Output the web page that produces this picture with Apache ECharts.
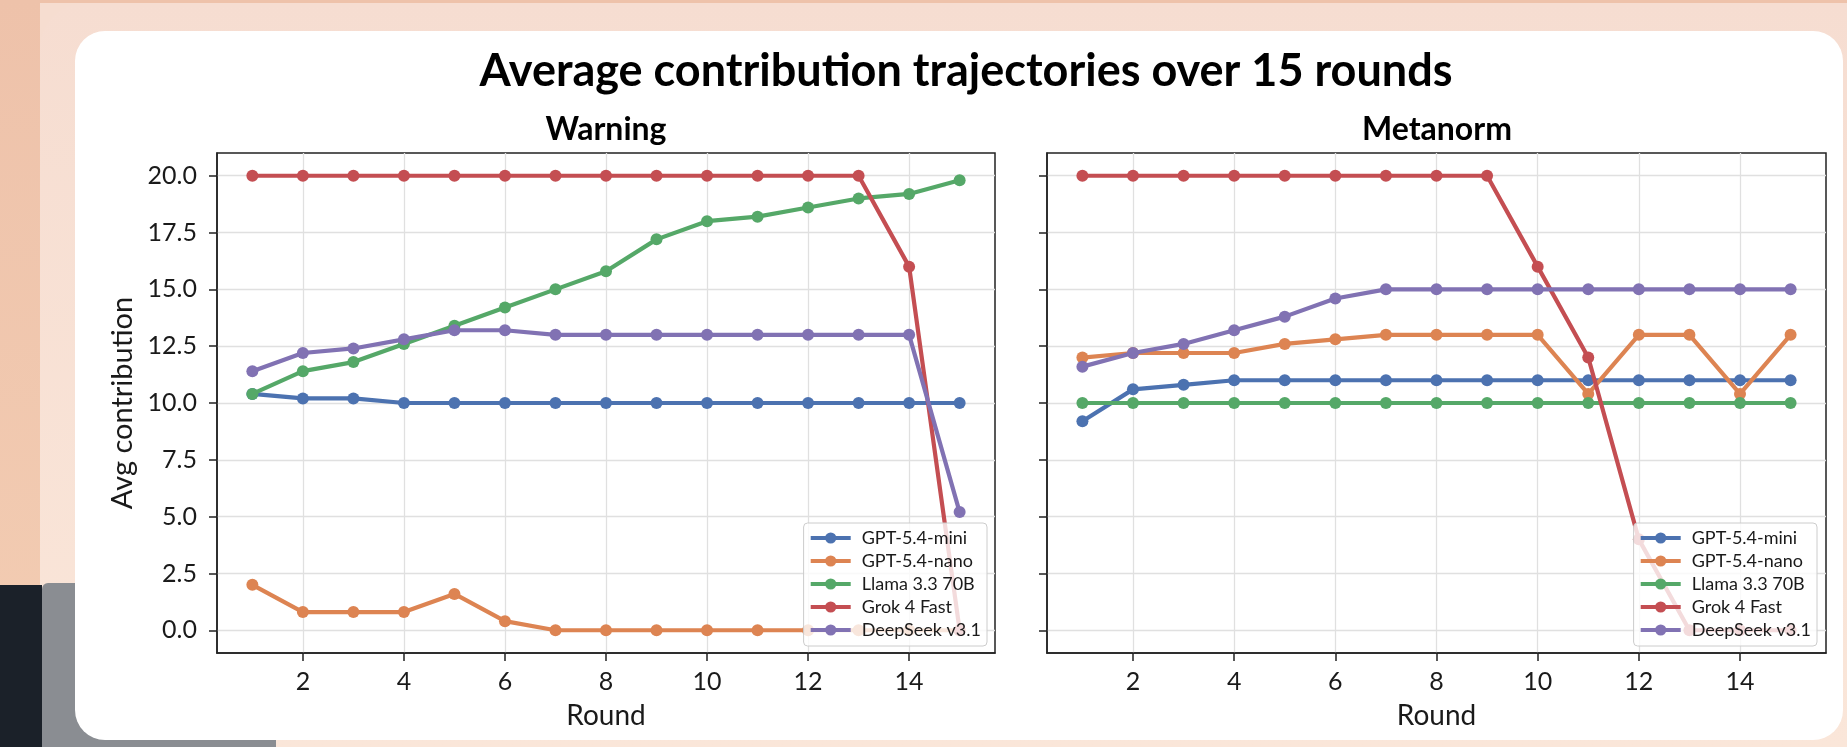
<!DOCTYPE html>
<html>
<head>
<meta charset="utf-8">
<script src="https://cdn.jsdelivr.net/npm/echarts@6/dist/echarts.min.js"></script>
<style>
  html, body { margin: 0; padding: 0; width: 1847px; height: 747px; overflow: hidden; }
  body { position: relative; background: #f6ddd0; font-family: Lato, sans-serif; }
  .deco { position: absolute; }
  #leftStrip { left: 0; top: 0; width: 40px; height: 747px; background: linear-gradient(#eec2aa, #f3cdb3); }
  #topStrip { left: 0; top: 0; width: 1847px; height: 3px; background: #eec2aa; }
  #band { left: 40px; top: 3px; width: 1807px; height: 744px; border-top-left-radius: 46px; background: linear-gradient(#f6ddd1, #fae6d9); }
  #navy { left: 0; top: 585px; width: 42px; height: 162px; background: #1b2129; }
  #gray { left: 42px; top: 583px; width: 234px; height: 164px; background: #8a8d92; border-top-left-radius: 6px; }
  #card { left: 75px; top: 31px; width: 1768px; height: 709px; background: #ffffff; border-radius: 30px; }
  #chart { position: absolute; left: 0; top: 0; width: 1847px; height: 747px; }
</style>
</head>
<body>
<div class="deco" id="leftStrip"></div>
<div class="deco" id="topStrip"></div>
<div class="deco" id="band"></div>
<div class="deco" id="navy"></div>
<div class="deco" id="gray"></div>
<div class="deco" id="card"></div>
<div id="chart"></div>
<script>
// ---- data ----
const rounds = [1, 2, 3, 4, 5, 6, 7, 8, 9, 10, 11, 12, 13, 14, 15];
const modelNames = ['GPT-5.4-mini', 'GPT-5.4-nano', 'Llama 3.3 70B', 'Grok 4 Fast', 'DeepSeek v3.1'];
const panelTitles = ['Warning', 'Metanorm'];

const warningMini     = [10.4, 10.2, 10.2, 10.0, 10.0, 10.0, 10.0, 10.0, 10.0, 10.0, 10.0, 10.0, 10.0, 10.0, 10.0];
const warningNano     = [2.0, 0.8, 0.8, 0.8, 1.6, 0.4, 0.0, 0.0, 0.0, 0.0, 0.0, 0.0, 0.0, 0.0, 0.0];
const warningLlama    = [10.4, 11.4, 11.8, 12.6, 13.4, 14.2, 15.0, 15.8, 17.2, 18.0, 18.2, 18.6, 19.0, 19.2, 19.8];
const warningGrok     = [20, 20, 20, 20, 20, 20, 20, 20, 20, 20, 20, 20, 20, 16.0, 0.0];
const warningDeepSeek = [11.4, 12.2, 12.4, 12.8, 13.2, 13.2, 13.0, 13.0, 13.0, 13.0, 13.0, 13.0, 13.0, 13.0, 5.2];

const metanormMini     = [9.2, 10.6, 10.8, 11.0, 11.0, 11.0, 11.0, 11.0, 11.0, 11.0, 11.0, 11.0, 11.0, 11.0, 11.0];
const metanormNano     = [12.0, 12.2, 12.2, 12.2, 12.6, 12.8, 13.0, 13.0, 13.0, 13.0, 10.4, 13.0, 13.0, 10.4, 13.0];
const metanormLlama    = [10, 10, 10, 10, 10, 10, 10, 10, 10, 10, 10, 10, 10, 10, 10];
const metanormGrok     = [20, 20, 20, 20, 20, 20, 20, 20, 20, 16.0, 12.0, 4.0, 0.0, 0.0, 0.0];
const metanormDeepSeek = [11.6, 12.2, 12.6, 13.2, 13.8, 14.6, 15.0, 15.0, 15.0, 15.0, 15.0, 15.0, 15.0, 15.0, 15.0];

const xTickValues = [2, 4, 6, 8, 10, 12, 14];
const yTickValues = [0, 2.5, 5, 7.5, 10, 12.5, 15, 17.5, 20];

// ---- styles ----
const colors = ['#4c72b0', '#dd8452', '#55a868', '#c44e52', '#8172b3'];
const FONT = 'Lato';
const ink = '#1a1a1a';

const panels = [
  [warningMini, warningNano, warningLlama, warningGrok, warningDeepSeek],
  [metanormMini, metanormNano, metanormLlama, metanormGrok, metanormDeepSeek]
];

const grids = [
  { left: 217, top: 153, width: 778, height: 500 },
  { left: 1047, top: 153, width: 779, height: 500 }
];

const series = [];
panels.forEach((panel, p) => {
  panel.forEach((vals, i) => {
    series.push({
      name: modelNames[i],
      type: 'line',
      xAxisIndex: p,
      yAxisIndex: p,
      data: rounds.map((r, k) => [r, vals[k]]),
      symbol: 'circle',
      symbolSize: 12,
      showSymbol: true,
      lineStyle: { width: 4.2, color: colors[i] },
      itemStyle: { color: colors[i] },
      z: 2 + i * 0.01,
      animation: false
    });
  });
});

function xAxis(i) {
  return {
    type: 'value', gridIndex: i, min: 0.3, max: 15.7, splitNumber: 8,
    name: 'Round', nameLocation: 'middle', nameGap: 49,
    nameTextStyle: { fontFamily: FONT, fontSize: 28, color: ink },
    axisLine: { show: true, onZero: false, lineStyle: { color: '#222', width: 1.5 } },
    axisTick: { show: true, inside: false, length: 8, customValues: xTickValues, lineStyle: { color: '#222', width: 1.5 } },
    axisLabel: { show: true, customValues: xTickValues, margin: 16, fontFamily: FONT, fontSize: 25, color: ink },
    splitLine: { show: true, lineStyle: { color: '#e0e0e0', width: 1.3 } }
  };
}
function yAxis(i) {
  return {
    type: 'value', gridIndex: i, min: -1, max: 21,
    name: i === 0 ? 'Avg contribution' : '', nameLocation: 'middle', nameGap: 80,
    nameTextStyle: { fontFamily: FONT, fontSize: 29, color: ink },
    axisLine: { show: true, onZero: false, lineStyle: { color: '#222', width: 1.5 } },
    axisTick: { show: true, inside: false, length: 8, customValues: yTickValues, lineStyle: { color: '#222', width: 1.5 } },
    axisLabel: { show: i === 0, customValues: yTickValues, margin: 20, fontFamily: FONT, fontSize: 25, color: ink,
                 formatter: v => v.toFixed(1) },
    splitLine: { show: true, lineStyle: { color: '#e0e0e0', width: 1.3 } }
  };
}

function legend(rightPx) {
  return {
    data: modelNames,
    orient: 'vertical',
    right: rightPx, bottom: 101,
    itemWidth: 40, itemHeight: 14, itemGap: 5,
    padding: [6, 6, 7, 5],
    backgroundColor: 'rgba(255,255,255,0.8)',
    borderColor: '#cccccc', borderWidth: 1, borderRadius: 4,
    lineStyle: { width: 4.2 },
    textStyle: { fontFamily: FONT, fontSize: 18, color: ink, padding: [0, 0, 0, 6] },
    selectedMode: false
  };
}

const chart = echarts.init(document.getElementById('chart'), null, { renderer: 'canvas' });
chart.setOption({
  backgroundColor: 'transparent',
  animation: false,
  title: [
    { text: 'Average contribution trajectories over 15 rounds', left: 966, top: 49, textAlign: 'center', padding: 0,
      textStyle: { fontFamily: FONT, fontWeight: 'bold', fontSize: 45, color: '#000' } },
    { text: panelTitles[0], left: 606, top: 114, textAlign: 'center', padding: 0,
      textStyle: { fontFamily: FONT, fontWeight: 'bold', fontSize: 32, color: '#000' } },
    { text: panelTitles[1], left: 1437, top: 114, textAlign: 'center', padding: 0,
      textStyle: { fontFamily: FONT, fontWeight: 'bold', fontSize: 32, color: '#000' } }
  ],
  grid: grids.map(g => Object.assign({ show: true, borderColor: '#222', borderWidth: 1.5, backgroundColor: 'transparent', containLabel: false }, g)),
  xAxis: [xAxis(0), xAxis(1)],
  yAxis: [yAxis(0), yAxis(1)],
  legend: [legend(1847 - 987), legend(1847 - 1817)],
  series: series
});
</script>
</body>
</html>
